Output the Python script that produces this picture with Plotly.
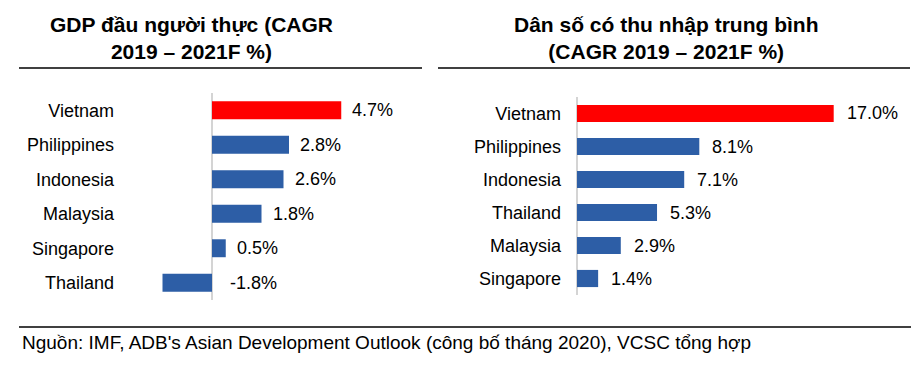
import plotly.graph_objects as go

# page is 919x366; the HTML body has an 8px margin, so the figure is 903x350
PAGE_W, PAGE_H = 919, 366
OFF = 8
W, H = PAGE_W - 2 * OFF, PAGE_H - 2 * OFF

# ---- data ----
left_title = "GDP đầu người thực (CAGR<br>2019 – 2021F %)"
left_countries = ["Vietnam", "Philippines", "Indonesia", "Malaysia", "Singapore", "Thailand"]
left_values = [4.7, 2.8, 2.6, 1.8, 0.5, -1.8]

right_title = "Dân số có thu nhập trung bình<br>(CAGR 2019 – 2021F %)"
right_countries = ["Vietnam", "Philippines", "Indonesia", "Thailand", "Malaysia", "Singapore"]
right_values = [17.0, 8.1, 7.1, 5.3, 2.9, 1.4]

source_text = "Nguồn: IMF, ADB's Asian Development Outlook (công bố tháng 2020), VCSC tổng hợp"

RED = "#ff0000"
BLUE = "#2d5ea6"
FONT = "Liberation Sans, Arial, sans-serif"


def px_x(p):
    return (p - OFF) / W


def px_y(p):
    return 1 - (p - OFF) / H


def colors(cats):
    return [RED if c == "Vietnam" else BLUE for c in cats]


fig = go.Figure()
fig.add_trace(go.Bar(x=left_values, y=left_countries, orientation="h",
                     marker=dict(color=colors(left_countries), line=dict(width=0)),
                     xaxis="x", yaxis="y", hoverinfo="skip"))
fig.add_trace(go.Bar(x=right_values, y=right_countries, orientation="h",
                     marker=dict(color=colors(right_countries), line=dict(width=0)),
                     xaxis="x2", yaxis="y2", hoverinfo="skip"))

annotations = []
for cats, vals, xr, yr, sh in [(left_countries, left_values, "x", "y", 9),
                               (right_countries, right_values, "x2", "y2", 11)]:
    for c, v in zip(cats, vals):
        annotations.append(dict(x=max(v, 0), y=c, xref=xr, yref=yr,
                                text=f"{v:.1f}%", showarrow=False,
                                xanchor="left", yanchor="middle",
                                xshift=sh if v >= 0 else 16,
                                font=dict(size=18, color="#000000", family=FONT)))

annotations.append(dict(x=px_x(191), y=px_y(38), xref="paper", yref="paper",
                        text=f"<b>{left_title}</b>", showarrow=False,
                        xanchor="center", yanchor="middle", align="center",
                        font=dict(size=21, color="#000000", family=FONT)))
annotations.append(dict(x=px_x(666), y=px_y(38), xref="paper", yref="paper",
                        text=f"<b>{right_title}</b>", showarrow=False,
                        xanchor="center", yanchor="middle", align="center",
                        font=dict(size=21, color="#000000", family=FONT)))
annotations.append(dict(x=px_x(20), y=px_y(342), xref="paper", yref="paper",
                        text=source_text, showarrow=False,
                        xanchor="left", yanchor="middle",
                        font=dict(size=19, color="#000000", family=FONT)))

shapes = [
    dict(type="line", xref="paper", yref="paper", x0=px_x(19), x1=px_x(422),
         y0=px_y(68), y1=px_y(68), line=dict(color="#000000", width=1.5)),
    dict(type="line", xref="paper", yref="paper", x0=px_x(438), x1=px_x(910),
         y0=px_y(68), y1=px_y(68), line=dict(color="#000000", width=1.5)),
    dict(type="line", xref="paper", yref="paper", x0=px_x(19), x1=px_x(915),
         y0=px_y(327), y1=px_y(327), line=dict(color="#000000", width=1.5)),
]

# left: zero at px 212, 27.5 px/unit, domain 118..440 (page px)
L0, L1, Lz, Ls = 118, 440, 212, 27.5
# right: zero at px 577, 15.1 px/unit, domain 565..905 (page px)
R0, R1, Rz, Rs = 565, 905, 577, 15.1

axis_common = dict(showgrid=False, showticklabels=False, zeroline=True,
                   zerolinecolor="#d4d4d4", zerolinewidth=1.5, showline=False,
                   fixedrange=True)
yaxis_common = dict(showgrid=False, zeroline=False, showline=False, ticks="",
                    autorange="reversed", ticklabelstandoff=3,
                    tickfont=dict(size=18, color="#000000", family=FONT))

fig.update_layout(
    width=W, height=H,
    margin=dict(l=0, r=0, t=0, b=0),
    paper_bgcolor="#ffffff", plot_bgcolor="#ffffff",
    showlegend=False, bargap=0.48,
    xaxis=dict(domain=[px_x(L0), px_x(L1)],
               range=[(L0 - Lz) / Ls, (L1 - Lz) / Ls], anchor="y", **axis_common),
    yaxis=dict(domain=[px_y(300), px_y(93)], anchor="x", **yaxis_common),
    xaxis2=dict(domain=[px_x(R0), px_x(R1)],
                range=[(R0 - Rz) / Rs, (R1 - Rz) / Rs], anchor="y2", **axis_common),
    yaxis2=dict(domain=[px_y(295), px_y(97)], anchor="x2", **yaxis_common),
    annotations=annotations,
    shapes=shapes,
)

fig.write_html("out.html")
